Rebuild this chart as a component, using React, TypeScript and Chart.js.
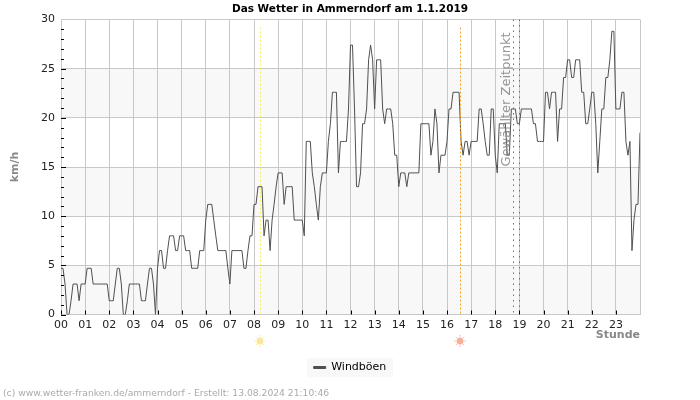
import React, { useEffect, useRef } from "react";
import { Chart, registerables } from "chart.js";

Chart.register(...registerables);

const titleText = "Das Wetter in Ammerndorf am 1.1.2019";
const seriesLabel = "Windböen";
const yAxisLabel = "km/h";
const xAxisLabel = "Stunde";
const footerText = "(c) www.wetter-franken.de/ammerndorf - Erstellt: 13.08.2024 21:10:46";
const selectedLabel = "Gewählter Zeitpunkt";

const hour00 = [4.7,4.7,3.1,0,0,1.4,3.1,3.1,3.1,1.4,3.1,3.1];
const hour01 = [3.1,4.7,4.7,4.7,3.1,3.1,3.1,3.1,3.1,3.1,3.1,3.1];
const hour02 = [1.4,1.4,1.4,3.1,4.7,4.7,3.1,0,0,1.4,3.1,3.1];
const hour03 = [3.1,3.1,3.1,3.1,1.4,1.4,1.4,3.1,4.7,4.7,3.1,0];
const hour04 = [4.7,6.5,6.5,4.7,4.7,6.5,8,8,8,6.5,6.5,8];
const hour05 = [8,8,6.5,6.5,6.5,4.7,4.7,4.7,4.7,6.5,6.5,6.5];
const hour06 = [9.6,11.2,11.2,11.2,9.6,8,6.5,6.5,6.5,6.5,6.5,4.7];
const hour07 = [3.1,6.5,6.5,6.5,6.5,6.5,6.5,4.7,4.7,6.5,8,8];
const hour08 = [11.2,11.2,13,13,13,8,9.6,9.6,6.5,9.6,11.2,13];
const hour09 = [14.4,14.4,14.4,11.2,13,13,13,13,9.6,9.6,9.6,9.6];
const hour10 = [9.6,8,17.6,17.6,17.6,14.4,13,11.2,9.6,13,14.4,14.4];
const hour11 = [14.4,17.6,19.4,22.6,22.6,22.6,14.4,17.6,17.6,17.6,17.6,20.9];
const hour12 = [27.4,27.4,20.9,13,13,14.4,19.4,19.4,20.9,25.9,27.4,25.9];
const hour13 = [20.9,25.9,25.9,25.9,20.9,19.4,20.9,20.9,20.9,19.4,16.2,16.2];
const hour14 = [13,14.4,14.4,14.4,13,14.4,14.4,14.4,14.4,14.4,14.4,19.4];
const hour15 = [19.4,19.4,19.4,19.4,16.2,17.6,20.9,19.4,14.4,16.2,16.2,16.2];
const hour16 = [17.6,20.9,20.9,22.6,22.6,22.6,22.6,17.6,16.2,17.6,17.6,16.2];
const hour17 = [17.6,17.6,17.6,17.6,20.9,20.9,19.4,17.6,16.2,16.2,20.9,20.9];
const hour18 = [16.2,14.4,19.4,19.4,19.4,19.4,16.2,16.2,20.9,20.9,20.9,19.4];
const hour19 = [19.4,20.9,20.9,20.9,20.9,20.9,20.9,19.4,19.4,17.6,17.6,17.6];
const hour20 = [17.6,22.6,22.6,20.9,22.6,22.6,22.6,17.6,20.9,20.9,24.1,24.1];
const hour21 = [25.9,25.9,24.1,24.1,25.9,25.9,25.9,22.6,22.6,19.4,19.4,20.9];
const hour22 = [22.6,22.6,19.4,14.4,17.6,20.9,20.9,24.1,24.1,25.9,28.8,28.8];
const hour23 = [20.9,20.9,20.9,22.6,22.6,17.6,16.2,17.6,6.5,9.6,11.2,11.2,18.5];

const gustValues = [
  ...hour00, ...hour01, ...hour02, ...hour03, ...hour04, ...hour05,
  ...hour06, ...hour07, ...hour08, ...hour09, ...hour10, ...hour11,
  ...hour12, ...hour13, ...hour14, ...hour15, ...hour16, ...hour17,
  ...hour18, ...hour19, ...hour20, ...hour21, ...hour22, ...hour23,
];

const samplesPerHour = 12;
const shadedBands = [[0, 5], [10, 15], [20, 25]];
const sunriseHour = 8.25;
const sunsetHour = 16.54;
const selectedHours = [18.74, 18.98];
const selectedLabelHour = 18.45;

const FONT = "'DejaVu Sans', sans-serif";

const decorations = {
  id: "decorations",
  beforeDraw(chart: any) {
    const { ctx, chartArea: a, scales } = chart;
    ctx.save();
    ctx.fillStyle = "#f8f8f8";
    for (const [lo, hi] of shadedBands) {
      const top = scales.y.getPixelForValue(hi);
      const bot = scales.y.getPixelForValue(lo);
      ctx.fillRect(a.left, top, a.right - a.left, bot - top);
    }
    const lg = chart.legend;
    ctx.fillRect(lg.left + lg.width / 2 - 43, lg.top, 86, 19);
    ctx.restore();
  },
  afterDatasetsDraw(chart: any) {
    const { ctx, chartArea: a, scales } = chart;
    const x = scales.x;
    const y = scales.y;
    ctx.save();
    ctx.lineWidth = 1;
    const vline = (h: number, color: string, dash: number[], top: number) => {
      const px = Math.round(x.getPixelForValue(h)) + 0.5;
      ctx.strokeStyle = color;
      ctx.setLineDash(dash);
      ctx.beginPath();
      ctx.moveTo(px, top);
      ctx.lineTo(px, a.bottom);
      ctx.stroke();
    };
    vline(sunriseHour, "#f8f060", [2, 2], a.top + 8);
    vline(sunsetHour, "#f5a623", [2, 2], a.top + 8);
    for (const h of selectedHours) vline(h, "#707070", [1.5, 4], a.top);
    ctx.setLineDash([]);

    ctx.strokeStyle = "#000000";
    for (let v = 0; v <= 29; v++) {
      const py = Math.round(y.getPixelForValue(v)) + 0.5;
      ctx.beginPath();
      ctx.moveTo(a.left, py);
      ctx.lineTo(a.left + (v % 5 === 0 ? 5 : 3), py);
      ctx.stroke();
    }
    for (let h = 0; h < 24; h++) {
      const px = Math.round(x.getPixelForValue(h)) + 0.5;
      ctx.beginPath();
      ctx.moveTo(px, a.bottom);
      ctx.lineTo(px, a.bottom - 4);
      ctx.stroke();
    }

    ctx.translate(x.getPixelForValue(selectedLabelHour) + 0.5, 99.5);
    ctx.rotate(-Math.PI / 2);
    ctx.font = `13px ${FONT}`;
    ctx.fillStyle = "rgba(130,130,130,0.85)";
    ctx.textAlign = "center";
    ctx.textBaseline = "middle";
    ctx.fillText(selectedLabel, 0, 0);
    ctx.restore();
  },
  afterDraw(chart: any) {
    const { ctx, scales } = chart;
    const sun = (h: number, color: string) => {
      const cx = scales.x.getPixelForValue(h);
      const cy = 341;
      ctx.save();
      ctx.fillStyle = color;
      ctx.strokeStyle = color;
      ctx.lineWidth = 1;
      ctx.beginPath();
      ctx.arc(cx, cy, 3.5, 0, Math.PI * 2);
      ctx.fill();
      for (let k = 0; k < 8; k++) {
        const t = (k * Math.PI) / 4;
        ctx.beginPath();
        ctx.moveTo(cx + 4.5 * Math.cos(t), cy + 4.5 * Math.sin(t));
        ctx.lineTo(cx + 6 * Math.cos(t), cy + 6 * Math.sin(t));
        ctx.stroke();
      }
      ctx.restore();
    };
    sun(sunriseHour, "#fbe79b");
    sun(sunsetHour, "#f8b09c");

    ctx.save();
    ctx.font = `9.2px ${FONT}`;
    ctx.fillStyle = "#aaaaaa";
    ctx.textAlign = "left";
    ctx.textBaseline = "middle";
    ctx.fillText(footerText, 3, 393.5);
    ctx.restore();
  },
};

export default function App() {
  const ref = useRef<HTMLCanvasElement>(null);
  useEffect(() => {
    document.body.style.margin = "0";
    const chart = new Chart(ref.current as HTMLCanvasElement, {
      type: "line",
      data: {
        datasets: [
          {
            label: seriesLabel,
            data: gustValues.map((v, i) => ({ x: i / samplesPerHour, y: v })),
            borderColor: "#505050",
            backgroundColor: "#505050",
            borderWidth: 1,
            pointRadius: 0,
            tension: 0,
          },
        ],
      },
      options: {
        responsive: false,
        animation: false,
        layout: { padding: { top: 0, right: 0, bottom: 17, left: 0 } },
        plugins: {
          title: {
            display: true,
            text: titleText,
            color: "#000000",
            font: { family: FONT, size: 10.5, weight: "bold" },
            padding: { top: 3, bottom: 3.9 },
          },
          legend: {
            display: true,
            position: "bottom",
            labels: {
              color: "#000000",
              font: { family: FONT, size: 11 },
              boxWidth: 12,
              boxHeight: 2,
              padding: 4,
            },
          },
          tooltip: { enabled: false },
        },
        scales: {
          x: {
            type: "linear",
            min: 0,
            max: 24,
            border: { display: false },
            grid: { color: "#c8c8c8", drawTicks: false },
            ticks: {
              stepSize: 1,
              autoSkip: false,
              maxRotation: 0,
              padding: 4,
              color: "#222222",
              font: { family: FONT, size: 11 },
              callback: (v: any) => (v < 24 ? String(v).padStart(2, "0") : ""),
            },
            title: {
              display: true,
              text: xAxisLabel,
              align: "end",
              color: "#888888",
              font: { family: FONT, size: 11, weight: "bold" },
              padding: { top: 0, bottom: 16 },
            },
            afterFit: (s: any) => {
              s.height = 43.5;
            },
          },
          y: {
            min: 0,
            max: 30,
            border: { display: false },
            grid: { color: "#c8c8c8", drawTicks: false },
            ticks: {
              stepSize: 5,
              padding: 6,
              color: "#222222",
              font: { family: FONT, size: 11 },
            },
            title: {
              display: true,
              text: yAxisLabel,
              color: "#888888",
              font: { family: FONT, size: 11, weight: "bold" },
              padding: { top: 9, bottom: 0 },
            },
            afterFit: (s: any) => {
              s.width = 61;
            },
          },
          rightGutter: {
            position: "right",
            min: 0,
            max: 30,
            border: { display: false },
            grid: { display: false, drawTicks: false },
            ticks: { display: false },
            afterFit: (s: any) => {
              s.width = 60;
            },
          },
        },
      } as any,
      plugins: [decorations],
    });
    return () => chart.destroy();
  }, []);
  return <canvas ref={ref} width={700} height={400} style={{ display: "block" }} />;
}
